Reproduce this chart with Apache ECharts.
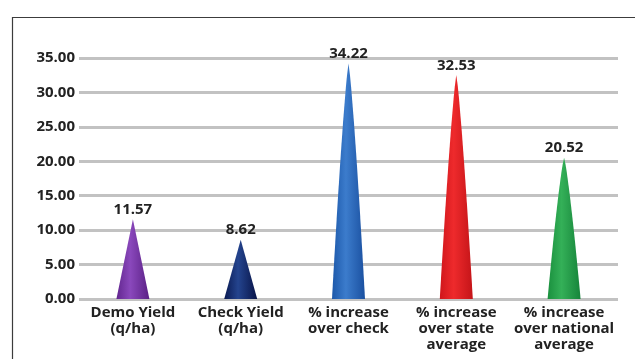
<!DOCTYPE html>
<html>
<head>
<meta charset="utf-8">
<script src="https://cdn.jsdelivr.net/npm/echarts@6/dist/echarts.min.js"></script>
<style>
  html, body { margin: 0; padding: 0; background: #fff; }
  #chart { width: 635px; height: 359px; }
</style>
</head>
<body>
<div id="chart"></div>
<script>
// Yield demonstration results
const categories = [
  'Demo Yield\n(q/ha)',
  'Check Yield\n(q/ha)',
  '% increase\nover check',
  '% increase\nover state\naverage',
  '% increase\nover national\naverage'
];
const values = [11.57, 8.62, 34.22, 32.53, 20.52];
const yTicks = { min: 0, max: 35, interval: 5 };

// cone palette: [left edge, highlight, right edge]
const coneColors = [
  ['#62268f', '#8a48bc', '#5a2085'],
  ['#0a1a52', '#24448e', '#081448'],
  ['#1c58aa', '#3c7ccc', '#1a50a0'],
  ['#d0161c', '#ee2a2c', '#c41418'],
  ['#1a903e', '#34b058', '#16843a']
];

// straight cone for the short marks, gently bulging cone for the tall ones
const conePlain = 'path://M50,0 L100,100 L0,100 Z';
const coneTall = 'path://M50,0 L54.5,5 L57.9,10 L66.5,25 L74,40 L78.7,50 L83.3,60 L89.7,75 L96,90 L100,100 ' +
                 'L0,100 L4,90 L10.3,75 L16.7,60 L21.3,50 L26,40 L33.5,25 L42.1,10 L45.5,5 Z';

const font = '"Open Sans", "Liberation Sans", sans-serif';

const chart = echarts.init(document.getElementById('chart'), null, { renderer: 'canvas' });

chart.setOption({
  animation: false,
  backgroundColor: '#ffffff',
  graphic: [{
    type: 'rect',
    left: 10, top: 15,
    shape: { width: 700, height: 400 },
    style: { fill: 'none', stroke: '#3c3c3c', lineWidth: 1.2 },
    silent: true,
    z: 0
  }],
  grid: { left: 79, right: 17, top: 58, bottom: 60 },
  xAxis: {
    type: 'category',
    data: categories,
    axisLine: { show: false },
    axisTick: { show: false },
    axisLabel: {
      interval: 0,
      margin: 6,
      fontFamily: font,
      fontWeight: 'bold',
      fontSize: 15,
      lineHeight: 16,
      color: '#222'
    }
  },
  yAxis: {
    type: 'value',
    min: yTicks.min,
    max: yTicks.max,
    interval: yTicks.interval,
    axisLine: { show: false },
    axisTick: { show: false },
    axisLabel: {
      margin: 4,
      formatter: v => v.toFixed(2),
      fontFamily: font,
      fontWeight: 'bold',
      fontSize: 15,
      color: '#222'
    },
    splitLine: {
      show: true,
      lineStyle: { color: '#c2c2c2', width: 3 }
    }
  },
  series: [{
    type: 'pictorialBar',
    symbolSize: [33, '100%'],
    symbolPosition: 'start',
    z: 5,
    label: {
      show: true,
      position: 'top',
      distance: 2,
      formatter: p => p.value.toFixed(2),
      fontFamily: font,
      fontWeight: 'bold',
      fontSize: 15,
      color: '#222'
    },
    data: values.map((v, i) => ({
      value: v,
      symbol: v > 15 ? coneTall : conePlain,
      itemStyle: {
        color: new echarts.graphic.LinearGradient(0, 0, 1, 0, [
          { offset: 0, color: coneColors[i][0] },
          { offset: 0.42, color: coneColors[i][1] },
          { offset: 1, color: coneColors[i][2] }
        ])
      }
    }))
  }]
});
</script>
</body>
</html>
